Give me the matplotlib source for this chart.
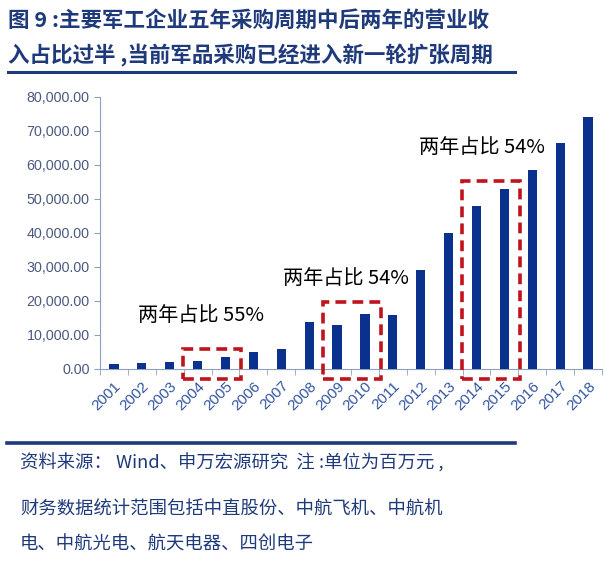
import matplotlib.pyplot as plt
from matplotlib.patches import Rectangle
from matplotlib.lines import Line2D
import numpy as np

plt.rcParams['font.family'] = ['Noto Sans CJK SC', 'DejaVu Sans']

# data: 营业收入 (百万元)
years = [str(y) for y in range(2001, 2019)]
revenue = [1400, 1800, 2100, 2450, 3400, 5100, 5800, 13800, 13000, 16200,
           15800, 29200, 40000, 48000, 53000, 58400, 66500, 74000]

# highlighted two-year windows and their share labels
box_years = [('2004', '2005'), ('2009', '2010'), ('2014', '2015')]
box_tops = [5900, 19700, 55300]
share_labels = ['两年占比 55%', '两年占比 54%', '两年占比 54%']
label_pos = [(0.85, 15600), (6.05, 26500), (10.95, 65000)]

navy = '#1F3A7A'
bar_color = '#0B318F'
red = '#C0141C'

fig = plt.figure(figsize=(6.05, 5.62), dpi=100)

# title
fig.text(8 / 605, 1 - 20 / 562, '图 9 :主要军工企业五年采购周期中后两年的营业收',
         fontsize=15.5, fontweight='bold', color=navy, va='center', ha='left')
fig.text(8 / 605, 1 - 55 / 562, '入占比过半 ,当前军品采购已经进入新一轮扩张周期',
         fontsize=15.5, fontweight='bold', color=navy, va='center', ha='left')
fig.add_artist(Line2D([8 / 605, 515 / 605], [1 - 72 / 562] * 2, color=navy, lw=2.2))

# chart
ax = fig.add_axes([100 / 605, 193 / 562, 502 / 605, 272 / 562])
x = np.arange(len(years))
ax.bar(x, revenue, width=0.33, color=bar_color, zorder=3)
ax.set_xlim(-0.5, len(years) - 0.5)
ax.set_ylim(0, 80000)
ax.set_yticks(np.arange(0, 80001, 10000))
ax.set_yticklabels([f'{v:,.2f}' for v in np.arange(0, 80001, 10000)],
                   fontsize=10.3, color='#4A5A80', family='Liberation Sans')
ax.set_xticks(x)
ax.set_xticklabels(years, rotation=45, ha='right', rotation_mode='anchor',
                   fontsize=11, color='#3355A0', family='Liberation Sans')
ax.set_xticks(np.arange(-0.5, len(years)), minor=True)
ax.tick_params(axis='x', which='major', length=0, pad=7)
ax.tick_params(axis='x', which='minor', length=4, color='#8EA0C0', direction='out')
ax.tick_params(axis='y', length=4, color='#8EA0C0', direction='out')
for s in ['top', 'right']:
    ax.spines[s].set_visible(False)
for s in ['left', 'bottom']:
    ax.spines[s].set_color('#8EA0C0')

# dashed red boxes
for (y0, y1), top in zip(box_years, box_tops):
    i0, i1 = years.index(y0), years.index(y1)
    left = i0 - 0.52
    right = i1 + 0.56
    bottom = -2800
    ax.add_patch(Rectangle((left, bottom), right - left, top - bottom, fill=False,
                           edgecolor=red, lw=2.6, ls=(0, (3, 1.7)), clip_on=False, zorder=4))

for txt, (tx, ty) in zip(share_labels, label_pos):
    ax.text(tx, ty, txt, fontsize=14.5, color='black', ha='left', va='center')

# footer
fig.add_artist(Line2D([7 / 605, 515 / 605], [1 - 443 / 562] * 2, color=navy, lw=2.6))
footer = ['资料来源： Wind、申万宏源研究  注 :单位为百万元 ,',
          '财务数据统计范围包括中直股份、中航飞机、中航机',
          '电、中航光电、航天电器、四创电子']
for line, yy in zip(footer, [463, 510, 545]):
    fig.text(20 / 605, 1 - yy / 562, line, fontsize=13.2, color=navy, va='center', ha='left')

fig.savefig('out.png', dpi=100)
